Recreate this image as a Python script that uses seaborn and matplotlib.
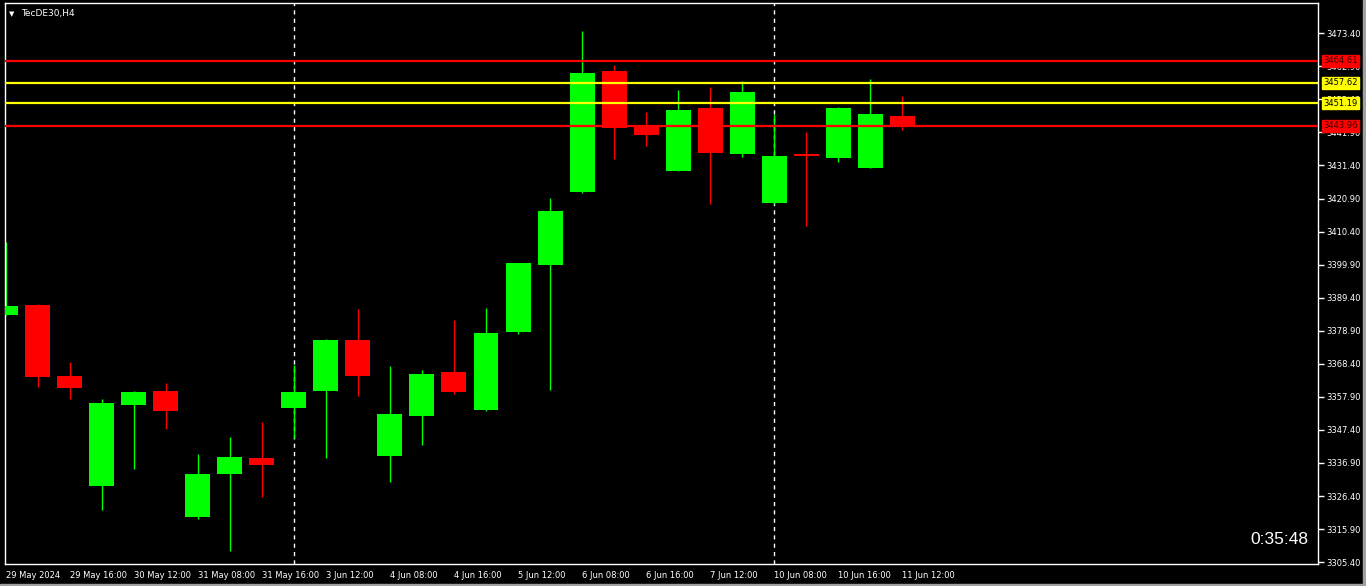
import matplotlib
matplotlib.use("Agg")
import matplotlib.pyplot as plt
import seaborn as sns
import numpy as np
import pandas as pd
from matplotlib.patches import Rectangle

# ---- data ----
opens  = [3384.0, 3387.1, 3364.5, 3329.6, 3355.3, 3359.7, 3319.7, 3333.4, 3338.5, 3354.3,
          3359.7, 3375.9, 3339.1, 3351.8, 3365.8, 3353.7, 3378.5, 3399.8, 3423.0, 3461.4,
          3443.6, 3429.7, 3449.7, 3435.1, 3419.5, 3435.1, 3433.8, 3430.6, 3447.1]
highs  = [3407.1, 3387.4, 3369.0, 3357.2, 3359.6, 3362.3, 3339.7, 3345.1, 3349.9, 3368.0,
          3376.3, 3385.8, 3367.7, 3366.4, 3382.3, 3386.1, 3400.4, 3421.1, 3474.1, 3463.3,
          3448.4, 3455.4, 3456.3, 3458.2, 3447.8, 3442.0, 3450.0, 3458.9, 3453.5]
lows   = [3383.9, 3361.0, 3357.2, 3321.9, 3335.0, 3347.7, 3319.1, 3308.9, 3326.1, 3344.8,
          3338.5, 3358.2, 3330.8, 3342.6, 3358.8, 3353.4, 3377.9, 3360.1, 3422.8, 3433.5,
          3437.6, 3429.5, 3419.2, 3434.1, 3419.3, 3412.2, 3432.5, 3430.5, 3442.7]
closes = [3386.8, 3364.2, 3360.7, 3355.9, 3359.4, 3353.4, 3333.4, 3338.8, 3336.2, 3359.4,
          3375.9, 3364.5, 3352.4, 3365.1, 3359.4, 3378.2, 3400.4, 3416.9, 3460.8, 3443.3,
          3441.1, 3449.0, 3435.4, 3454.8, 3434.4, 3434.4, 3449.7, 3447.8, 3444.3]

level_values = [3464.61, 3457.62, 3451.19, 3443.96]
level_colors = ["#ff0000", "#ffff00", "#ffff00", "#ff0000"]

y_ticks = [3305.40 + 10.5 * i for i in range(17)]
x_tick_idx = [0, 2, 4, 6, 8, 10, 12, 14, 16, 18, 20, 22, 24, 26, 28]
x_tick_labels = ["29 May 2024", "29 May 16:00", "30 May 12:00", "31 May 08:00", "31 May 16:00",
                 "3 Jun 12:00", "4 Jun 08:00", "4 Jun 16:00", "5 Jun 12:00", "6 Jun 08:00",
                 "6 Jun 16:00", "7 Jun 12:00", "10 Jun 08:00", "10 Jun 16:00", "11 Jun 12:00"]
separators = [9, 24]
title = "TecDE30,H4"
clock = "0:35:48"

df = pd.DataFrame({"open": opens, "high": highs, "low": lows, "close": closes})
df["i"] = np.arange(len(df))
df["up"] = df["close"] >= df["open"]

# ---- styling ----
sns.set_style("dark", {"axes.facecolor": "black", "figure.facecolor": "black"})
plt.rcParams["font.family"] = ["DejaVu Sans"]

W, H = 1366, 586
fig = plt.figure(figsize=(W / 100, H / 100), dpi=100)
fig.patch.set_facecolor("black")
# grey window edges
fig.add_artist(Rectangle((1363 / W, 0), 3 / W, 1, transform=fig.transFigure, color="#a0a0a0", zorder=0))
fig.add_artist(Rectangle((0, 0), 1, 2 / H, transform=fig.transFigure, color="#a0a0a0", zorder=0))

ax_l, ax_r, ax_t, ax_b = 5, 1318, 3, 564
ax = fig.add_axes([ax_l / W, 1 - ax_b / H, (ax_r - ax_l) / W, (ax_b - ax_t) / H])
ax.set_facecolor("black")

green = "#00ff00"
red = "#ff0000"
colors = [green if u else red for u in df["up"]]

# wicks
ax.vlines(df["i"], df["low"], df["high"], colors=colors, linewidths=1.0, zorder=2)
# bodies
bottoms = np.minimum(df["open"], df["close"])
heights = np.maximum(np.abs(df["close"] - df["open"]), 0.6)
ax.bar(df["i"], heights, bottom=bottoms, width=0.78, color=colors, linewidth=0, zorder=3)

# levels
for v, c in zip(level_values, level_colors):
    ax.axhline(v, color=c, linewidth=1.6, zorder=4)

# separators
for s in separators:
    ax.axvline(s, color="white", linewidth=1.0, linestyle=(0, (3, 3)), zorder=1)

ax.set_xlim(-0.02, 40.98)
ax.set_ylim(3304.8, 3483.0)

for sp in ax.spines.values():
    sp.set_color("white")
    sp.set_linewidth(1.0)

ax.yaxis.tick_right()
ax.set_yticks(y_ticks)
ax.set_yticklabels([f"{v:.2f}" for v in y_ticks])
ax.tick_params(axis="y", colors="white", length=4, width=1, direction="out", pad=2,
               labelsize=6, labelcolor="white")
ax.set_xticks(x_tick_idx)
ax.set_xticklabels(x_tick_labels, ha="left")
ax.tick_params(axis="x", colors="white", length=4, width=1, direction="out", pad=1,
               labelsize=6, labelcolor="white")
for lbl in ax.get_xticklabels():
    lbl.set_horizontalalignment("left")
ax.grid(False)

# level labels on the price axis
for v, c in zip(level_values, level_colors):
    txtc = "#400000" if c == red else "black"
    ax.annotate(f"{v:.2f}", xy=(1.0, v), xycoords=("axes fraction", "data"),
                xytext=(4, 0), textcoords="offset points", ha="left", va="center",
                fontsize=6, color=txtc, zorder=10, annotation_clip=False,
                bbox=dict(boxstyle="square,pad=0.15", fc=c, ec=c))

# title
ax.text(0.003, 0.985, "▼", transform=ax.transAxes, color="white", fontsize=5,
        ha="left", va="top")
ax.text(0.012, 0.99, title, transform=ax.transAxes, color="white", fontsize=6.5,
        ha="left", va="top")

# clock
ax.text(0.9925, 0.03, clock, transform=ax.transAxes, color="white", fontsize=12.5,
        family=["Liberation Sans", "DejaVu Sans"], ha="right", va="bottom")

fig.savefig("out.png", dpi=100, facecolor="black")
